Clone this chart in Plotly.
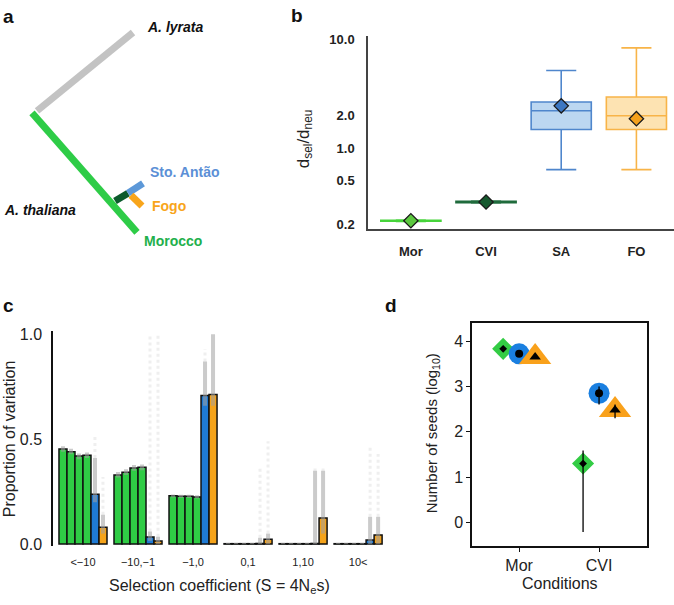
import plotly.graph_objects as go

W, H = 674, 605
FONT = "Liberation Sans"

# ---------------- Panel a : tree ----------------
tree_branch = ["A. lyrata", "A. thaliana", "CVI stem", "Sto. Antão", "Fogo"]
tree_x0 = [37, 32, 115, 128, 131]
tree_y0 = [108, 110, 200, 192, 194]
tree_x1 = [133, 137, 128, 143, 142]
tree_y1 = [28, 232, 192, 182, 205]
tree_colors = ["#c3c3c3", "#2ecc47", "#0b5a2c", "#5c98d8", "#f8a51b"]

tree_label_text = ["<b><i>A. lyrata</i></b>", "<b><i>A. thaliana</i></b>", "<b>Sto. Antão</b>",
                   "<b>Fogo</b>", "<b>Morocco</b>"]
tree_label_x = [145, 2, 148, 150, 142]
tree_label_y = [22, 209, 170, 205, 241]
tree_label_col = ["#111111", "#111111", "#5b8fd6", "#f8a51b", "#22b04b"]

# ---------------- Panel b : dsel/dneu ----------------
b_cats = ["Mor", "CVI", "SA", "FO"]
b_q1 = [0.213, 0.316, 1.48, 1.48]
b_median = [0.215, 0.320, 2.20, 1.98]
b_q3 = [0.217, 0.324, 2.65, 2.94]
b_low = [0.212, 0.314, 0.634, 0.634]
b_high = [0.218, 0.326, 5.15, 8.3]
b_mean = [0.215, 0.320, 2.44, 1.86]
b_line = ["#46d43a", "#1f6b3c", "#4f86cc", "#f8b448"]
b_fill = ["#46d43a", "#1f6b3c", "#bcd7f1", "#fde3b2"]
b_marker = ["#5cc83f", "#17592f", "#3c77c2", "#f5a11c"]
b_ticks = [0.2, 0.5, 1, 2, 10]
b_ticktext = ["0.2", "0.5", "1.0", "2.0", "10.0"]

# ---------------- Panel c : proportion of variation ----------------
c_groups = ["<−10", "−10,−1", "−1,0", "0,1", "1,10", "10<"]
c_series = ["Mor 1", "Mor 2", "Mor 3", "Mor 4", "Sto. Antão", "Fogo"]
c_colors = ["#2fcc45", "#2fcc45", "#2fcc45", "#2fcc45", "#1f7ad4", "#f5a31a"]
c_values = [
    [0.453, 0.330, 0.230, 0.002, 0.002, 0.002],
    [0.440, 0.343, 0.228, 0.002, 0.002, 0.002],
    [0.420, 0.363, 0.228, 0.002, 0.002, 0.002],
    [0.424, 0.366, 0.225, 0.002, 0.002, 0.002],
    [0.238, 0.034, 0.709, 0.003, 0.003, 0.019],
    [0.080, 0.015, 0.713, 0.023, 0.125, 0.044],
]
# bootstrap clouds: dense range (lo, hi) and sparse upper extent
c_dense_lo = [
    [0.440, 0.318, 0.222, 0.0, 0.0, 0.0],
    [0.428, 0.330, 0.220, 0.0, 0.0, 0.0],
    [0.405, 0.350, 0.220, 0.0, 0.0, 0.0],
    [0.410, 0.352, 0.217, 0.0, 0.0, 0.0],
    [0.200, 0.015, 0.660, 0.0, 0.0, 0.0],
    [0.050, 0.000, 0.660, 0.0, 0.050, 0.0],
]
c_dense_hi = [
    [0.467, 0.344, 0.237, 0.006, 0.006, 0.006],
    [0.455, 0.357, 0.235, 0.006, 0.006, 0.006],
    [0.432, 0.377, 0.235, 0.006, 0.006, 0.006],
    [0.437, 0.379, 0.233, 0.006, 0.006, 0.006],
    [0.410, 0.060, 0.870, 0.030, 0.350, 0.130],
    [0.140, 0.035, 1.000, 0.050, 0.350, 0.130],
]
c_sparse_hi = [
    [0.467, 0.344, 0.237, 0.006, 0.006, 0.006],
    [0.455, 0.357, 0.235, 0.006, 0.006, 0.006],
    [0.432, 0.377, 0.235, 0.006, 0.006, 0.006],
    [0.437, 0.379, 0.233, 0.006, 0.006, 0.006],
    [0.510, 1.000, 0.930, 0.360, 0.360, 0.460],
    [0.320, 1.000, 1.000, 0.490, 0.360, 0.430],
]

# ---------------- Panel d : number of seeds ----------------
d_conditions = ["Mor", "CVI"]
d_pops = ["Morocco", "Sto. Antão", "Fogo"]
d_mean = [[3.83, 1.30], [3.72, 2.85], [3.65, 2.48]]
d_err_hi = [[3.86, 1.59], [3.75, 3.00], [3.68, 2.60]]
d_err_lo = [[3.80, -0.21], [3.69, 2.60], [3.62, 2.30]]
d_colors = ["#33cc44", "#1a7fe0", "#f9a11b"]
d_symbols = ["diamond", "circle", "triangle-up"]
d_sizes = [17, 21, 28]
d_inner_sizes = [6, 8, 10]


def xdom(a, b):
    return [a / W, b / W]


def ydom(top, bot):
    return [1 - bot / H, 1 - top / H]


fig = go.Figure()

# ---- panel a traces
for i in range(len(tree_branch)):
    fig.add_trace(go.Scatter(
        x=[tree_x0[i], tree_x1[i]], y=[tree_y0[i], tree_y1[i]], mode="lines",
        line=dict(color=tree_colors[i], width=7), xaxis="x", yaxis="y",
        showlegend=False, hoverinfo="skip"))

# ---- panel b traces
for i, c in enumerate(b_cats):
    fig.add_trace(go.Box(
        x=[c], q1=[b_q1[i]], median=[b_median[i]], q3=[b_q3[i]],
        lowerfence=[b_low[i]], upperfence=[b_high[i]],
        width=0.8, whiskerwidth=0.5, line=dict(color=b_line[i], width=1.6),
        fillcolor=b_fill[i], boxpoints=False, xaxis="x2", yaxis="y2",
        showlegend=False))
fig.add_trace(go.Scatter(
    x=b_cats, y=b_mean, mode="markers", xaxis="x2", yaxis="y2",
    marker=dict(symbol="diamond", size=11, color=b_marker,
                line=dict(color="#1a1a1a", width=1.3)),
    showlegend=False))

# ---- panel c traces
group_w = 48 / 55
bw = group_w / len(c_series)
for j, s in enumerate(c_series):
    xs = [g + (j - 2.5) * bw for g in range(len(c_groups))]
    fig.add_trace(go.Bar(
        x=xs, y=c_values[j], width=bw, name=s, marker=dict(
            color=c_colors[j], line=dict(color="#111111", width=1.5)),
        xaxis="x3", yaxis="y3", showlegend=False))
for j, s in enumerate(c_series):
    xs = [g + (j - 2.5) * bw for g in range(len(c_groups))]
    sx, sy, dx, dy = [], [], [], []
    for g in range(len(c_groups)):
        if c_sparse_hi[j][g] > c_dense_hi[j][g]:
            sx += [xs[g], xs[g], None]
            sy += [c_dense_hi[j][g], c_sparse_hi[j][g], None]
        dx += [xs[g], xs[g], None]
        dy += [c_dense_lo[j][g], c_dense_hi[j][g], None]
    if sx:
        fig.add_trace(go.Scatter(
            x=sx, y=sy, mode="lines", xaxis="x3", yaxis="y3",
            line=dict(color="rgba(175,175,175,0.2)", width=3, dash="dot"),
            showlegend=False, hoverinfo="skip"))
    fig.add_trace(go.Scatter(
        x=dx, y=dy, mode="lines", xaxis="x3", yaxis="y3",
        line=dict(color="rgba(160,160,160,0.55)", width=4),
        showlegend=False, hoverinfo="skip"))

# ---- panel d traces
dodge = [-0.2, 0.0, 0.2]
for k, p in enumerate(d_pops):
    xs = [i + 1 + dodge[k] for i in range(len(d_conditions))]
    fig.add_trace(go.Scatter(
        x=xs, y=d_mean[k], mode="markers", name=p, xaxis="x4", yaxis="y4",
        marker=dict(symbol=d_symbols[k], size=d_sizes[k], color=d_colors[k],
                    line=dict(width=0)), showlegend=False))
for k, p in enumerate(d_pops):
    xs = [i + 1 + dodge[k] for i in range(len(d_conditions))]
    fig.add_trace(go.Scatter(
        x=xs, y=d_mean[k], mode="markers", xaxis="x4", yaxis="y4",
        marker=dict(symbol=d_symbols[k], size=d_inner_sizes[k], color="#000000"),
        error_y=dict(type="data", symmetric=False,
                     array=[d_err_hi[k][i] - d_mean[k][i] for i in range(2)],
                     arrayminus=[d_mean[k][i] - d_err_lo[k][i] for i in range(2)],
                     color="#000000", thickness=1.3, width=0),
        showlegend=False))

axis_common = dict(showgrid=False, zeroline=False)
fig.update_layout(
    width=W, height=H, margin=dict(l=0, r=0, t=0, b=0),
    paper_bgcolor="white", plot_bgcolor="white",
    font=dict(family=FONT, color="#222222"),
    barmode="overlay",
    xaxis=dict(domain=xdom(0, 240), range=[0, 240], visible=False, **axis_common),
    yaxis=dict(domain=ydom(0, 260), range=[260, 0], visible=False, **axis_common),
    xaxis2=dict(domain=xdom(368, 674), type="category", categoryarray=b_cats,
                range=[-0.57, 3.5], showline=True, linecolor="#444444", linewidth=1.5,
                ticks="", tickfont=dict(size=13, color="#222222", family=FONT, weight="bold"),
                ticklabelstandoff=9, anchor="y2", **axis_common),
    yaxis2=dict(domain=ydom(32, 229), type="log", range=[-0.747, 1.025],
                tickvals=b_ticks, ticktext=b_ticktext, showline=True,
                linecolor="#444444", linewidth=1.5, ticks="",
                tickfont=dict(size=13, color="#222222", family=FONT, weight="bold"),
                ticklabelstandoff=9, anchor="x2", **axis_common),
    xaxis3=dict(domain=xdom(53, 390), range=[-0.545, 5.58], tickvals=list(range(6)),
                ticktext=c_groups, showline=False, ticks="",
                tickfont=dict(size=11, color="#222222"), ticklabelstandoff=8,
                anchor="y3", **axis_common),
    yaxis3=dict(domain=ydom(333, 552), range=[-0.0093, 1.014], tickvals=[0, 0.5, 1],
                ticktext=["0.0", "0.5", "1.0"], showline=True, linecolor="#111111",
                linewidth=1.5, ticks="", tickfont=dict(size=16, color="#222222"),
                ticklabelstandoff=6, anchor="x3", **axis_common),
    xaxis4=dict(domain=xdom(472, 647), range=[0.41, 2.6], tickvals=[1, 2],
                ticktext=d_conditions, showline=True, mirror=True, linecolor="#111111",
                linewidth=1.5, ticks="outside", ticklen=4, tickcolor="#111111",
                tickfont=dict(size=16, color="#222222"), anchor="y4", **axis_common),
    yaxis4=dict(domain=ydom(324, 552), range=[-0.52, 4.41], tickvals=[0, 1, 2, 3, 4],
                showline=True, mirror=True, linecolor="#111111", linewidth=1.5,
                ticks="outside", ticklen=4, tickcolor="#111111",
                tickfont=dict(size=16, color="#222222"), anchor="x4", **axis_common),
)

ann = []
# tree labels
for i in range(len(tree_label_text)):
    ann.append(dict(x=tree_label_x[i], y=tree_label_y[i], xref="x", yref="y",
                    text=tree_label_text[i], showarrow=False, xanchor="left",
                    yanchor="middle", font=dict(size=14, color=tree_label_col[i])))


def pann(text, px, py, size, xanchor="center", angle=0, bold=False, color="#222222"):
    return dict(x=px / W, y=1 - py / H, xref="paper", yref="paper", text=text,
                showarrow=False, xanchor=xanchor, yanchor="middle", textangle=angle,
                font=dict(size=size, color=color,
                          weight="bold" if bold else "normal"))


ann += [
    pann("a", 1, 12, 19, "left", bold=True, color="#111111"),
    pann("b", 289, 11, 19, "left", bold=True, color="#111111"),
    pann("c", 1, 307, 19, "left", bold=True, color="#111111"),
    pann("d", 383, 307, 19, "left", bold=True, color="#111111"),
    pann("d<sub>sel</sub>/d<sub>neu</sub>", 305, 137, 17, angle=-90),
    pann("Proportion of variation", 9, 443, 16, angle=-90),
    pann("Selection coefficient (S = 4N<sub>e</sub>s)", 219, 593, 16),
    pann("Number of seeds (log<sub>10</sub>)", 432, 437, 15, angle=-90),
    pann("Conditions", 560, 590, 16),
]
fig.update_layout(annotations=ann)

fig.write_html("out.html", config={"displayModeBar": False},
               post_script="document.body.style.margin='0';document.body.style.overflow='hidden';")
